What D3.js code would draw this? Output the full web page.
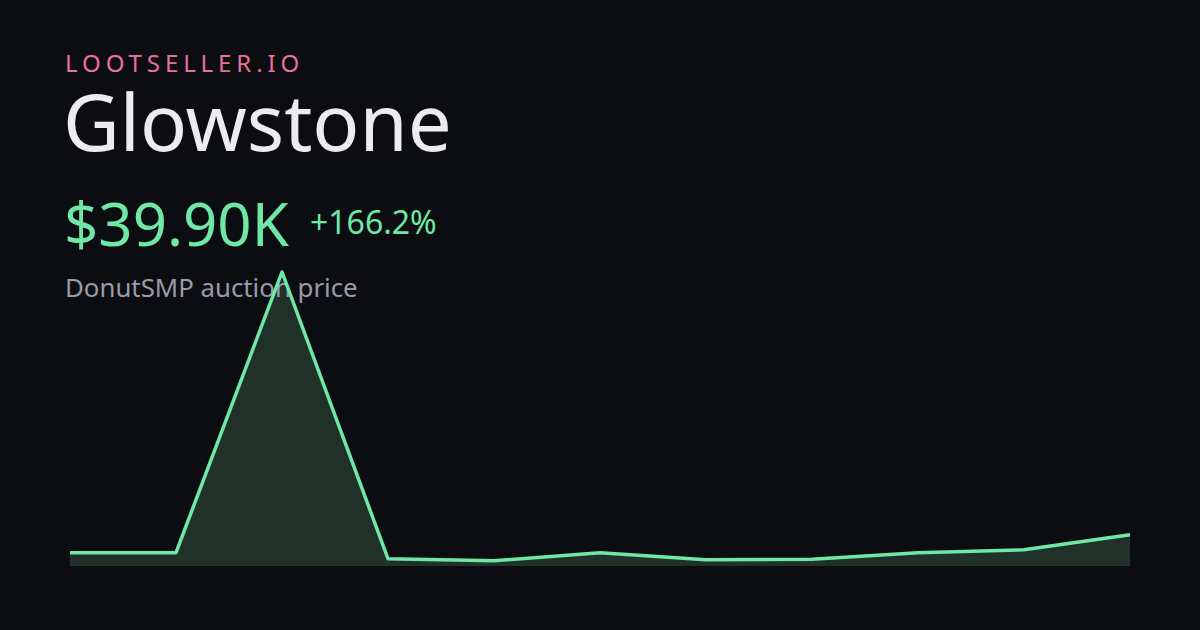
<!doctype html>
<html>
<head>
<meta charset="utf-8">
<title>Glowstone</title>
<script src="https://cdn.jsdelivr.net/npm/d3@7"></script>
<style>
  body { margin: 0; background: #0c0d10; }
  svg { display: block; font-family: "Noto Sans", sans-serif; }
</style>
</head>
<body>
<svg id="chart" width="1200" height="630"></svg>
<script>
// price history in thousands
var days = [0, 1, 2, 3, 4, 5, 6, 7, 8, 9, 10];
var prices = [15.0, 15.0, 402, 6.7, 3.9, 15.0, 5.3, 6.0, 15.0, 19.1, 39.9];

var svg = d3.select("#chart");
svg.append("rect").attr("width", 1200).attr("height", 630).attr("fill", "#0c0d10");

var x = d3.scaleLinear().domain([0, 10]).range([70, 1130]);
var y = d3.scaleLinear().domain([-3.3, 402]).range([566, 272]);

var pts = days.map(function (d, i) { return [d, prices[i]]; });

svg.append("path").datum(pts)
    .attr("fill", "#1f3129")
    .attr("d", d3.area().x(function (d) { return x(d[0]); }).y0(566).y1(function (d) { return y(d[1]); }));

// text
svg.append("text").attr("x", 65).attr("y", 72).attr("fill", "#e8709e")
    .attr("font-size", 24).attr("letter-spacing", 4.9).text("LOOTSELLER.IO");
svg.append("text").attr("x", 63).attr("y", 151).attr("fill", "#ececf0")
    .attr("font-size", 78).text("Glowstone");
svg.append("text").attr("x", 64).attr("y", 246).attr("fill", "#6ee7a7")
    .attr("font-size", 60).text("$39.90K");
svg.append("text").attr("x", 310).attr("y", 234).attr("fill", "#6ee7a7")
    .attr("font-size", 32).text("+166.2%");
svg.append("text").attr("x", 65).attr("y", 297).attr("fill", "#9a9aaa")
    .attr("font-size", 25.8).text("DonutSMP auction price");

svg.append("path").datum(pts)
    .attr("fill", "none").attr("stroke", "#6ee7a7").attr("stroke-width", 3.5)
    .attr("stroke-linejoin", "round")
    .attr("d", d3.line().x(function (d) { return x(d[0]); }).y(function (d) { return y(d[1]); }));
</script>
</body>
</html>
